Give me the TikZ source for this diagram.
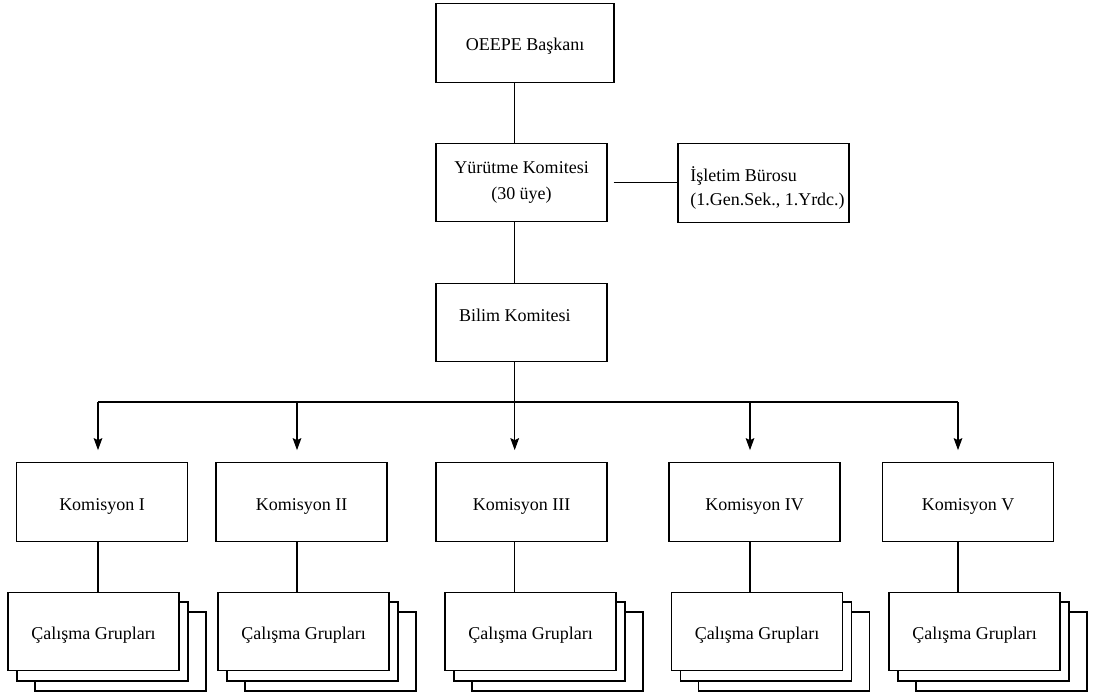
\documentclass[tikz,border=0pt]{standalone}
\usepackage{fontspec}
\setmainfont{Liberation Serif}
\usetikzlibrary{arrows.meta}

\begin{document}
\begin{tikzpicture}[x=0.75pt, y=-0.75pt,
    box/.style={draw, line width=0.9pt, fill=white, minimum width=128.25pt,
        minimum height=58.9pt, inner sep=0pt, align=center,
        font=\fontsize{13.5}{19}\selectfont},
    onebox/.style={box, text height=12pt, text depth=0pt},
    sheet/.style={draw, line width=0.9pt, fill=white},
    link/.style={line width=0.9pt},
    arrowlink/.style={line width=0.9pt, shorten >=9pt,
        -{Stealth[length=9pt, width=6.5pt, inset=1.5pt]}}]
    % Size of the canvas (in pixels of the original)
    \useasboundingbox (0,0) rectangle (1097,692);

    % Main line of the organisation
    \coordinate (trunk) at (514.7,0);
    \node[onebox, minimum width=133.5pt] (oeepe) at (525,43) {OEEPE Başkanı};
    \node[box] (yurutme) at (521.5,182.5) {Yürütme Komitesi\\(30 üye)};
    \node[box, label={[xshift=3pt, yshift=-3.75pt, align=left,
        font=\fontsize{13.5}{18}\selectfont]center:İşletim Bürosu\\(1.Gen.Sek., 1.Yrdc.)}]
        (isletim) at (763.5,183) {};
    \node[box, label={[xshift=-4.9pt, yshift=5.6pt,
        font=\fontsize{13.5}{19}\selectfont]center:Bilim Komitesi}]
        (bilim) at (521.5,322.5) {};

    % Links between the committees
    \draw[link] (trunk |- oeepe.south) -- (trunk |- yurutme.north);
    \draw[link] (trunk |- yurutme.south) -- (trunk |- bilim.north);
    \draw[link] ([xshift=4.5pt]yurutme.east) -- (yurutme.east -| isletim.west);

    % Commissions and their working groups
    \foreach \idx/\kx/\gx/\cx/\numeral in {1/102/93.5/98/I, 2/301.5/303.5/297/II,
        3/521.5/530.5/514.7/III, 4/754.5/757/750/IV, 5/968/974.5/958/V} {
        % sheets stacked behind the working groups
        \draw[sheet] (\gx-85.5+27,612) rectangle ++(171,79);
        \draw[sheet] (\gx-85.5+9,602) rectangle ++(171,79);
        \node[onebox] (kom\idx) at (\kx,502) {Komisyon \numeral};
        \node[onebox] (grup\idx) at (\gx,631.5) {Çalışma Grupları};
        \coordinate (col\idx) at (\cx,402);
        \draw[arrowlink] (col\idx) -- (col\idx |- kom\idx.north);
        \draw[link] (col\idx |- kom\idx.south) -- (col\idx |- grup\idx.north);
    }

    % Distribution bar below the scientific committee
    \draw[link] (col1) -- (col5);
    \draw[link] (trunk |- bilim.south) -- (col3);
\end{tikzpicture}
\end{document}
